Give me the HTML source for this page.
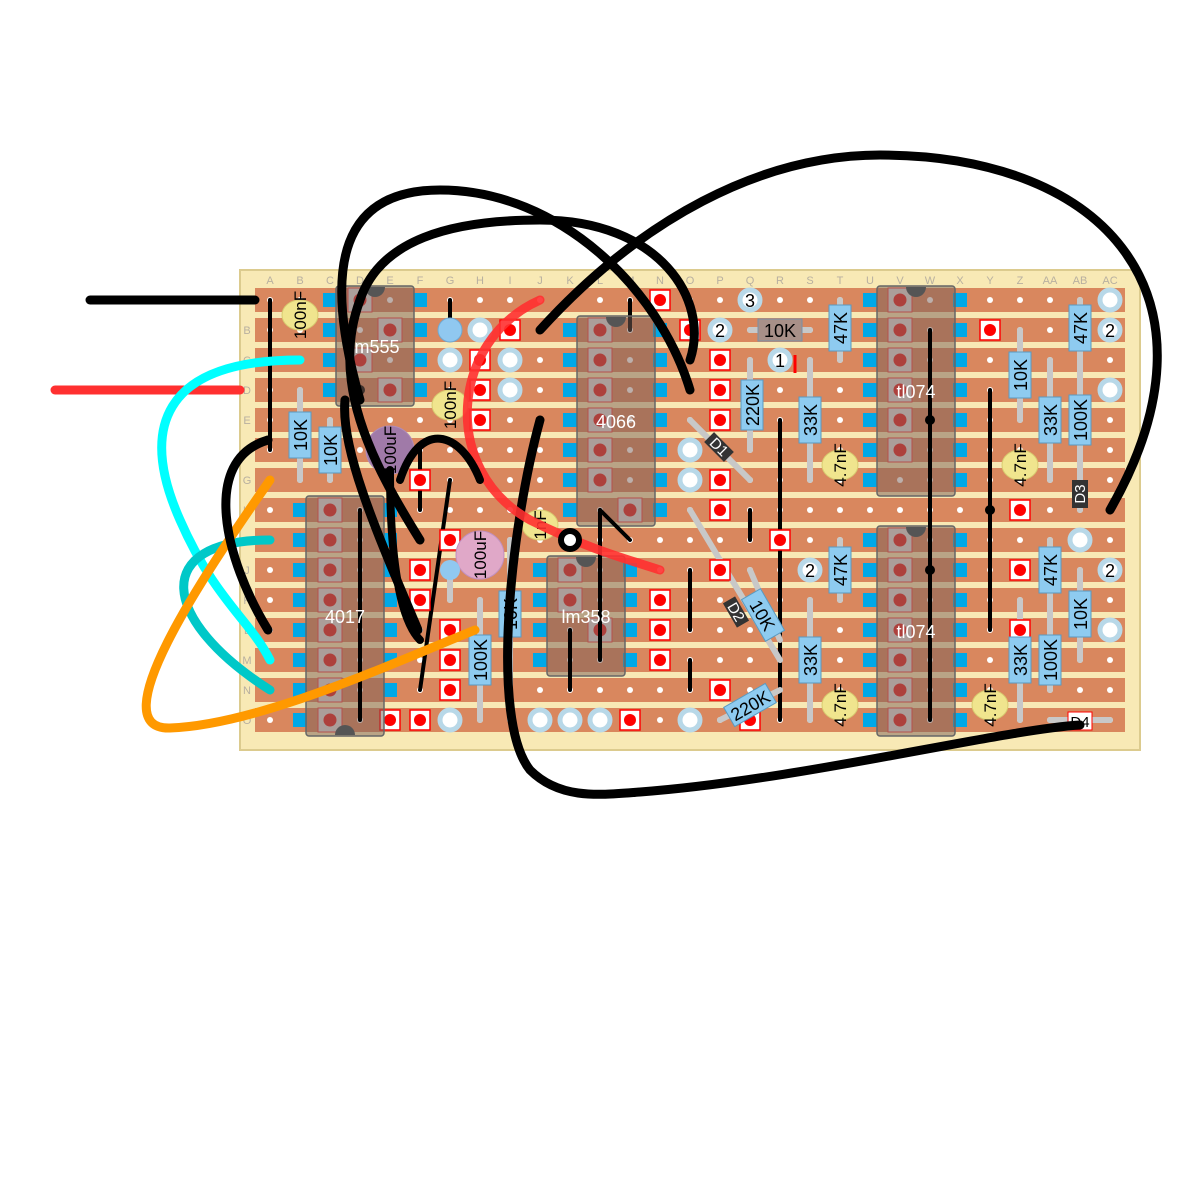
<!DOCTYPE html>
<html><head><meta charset="utf-8"><style>
html,body{margin:0;padding:0;background:#fff;width:1178px;height:1178px;overflow:hidden}
svg{display:block}
text{font-family:"Liberation Sans",sans-serif}
</style></head><body>
<svg id="s" width="1178" height="1178" viewBox="0 0 1178 1178" xmlns="http://www.w3.org/2000/svg">
<rect x="240" y="270" width="900" height="480" fill="#f8e9b5" stroke="#dccb8e" stroke-width="2"/>
<g id="strips"></g>
<g id="labels" fill="#b8b0a0" font-size="11" text-anchor="middle"></g>
<g id="holes"></g>
<g stroke="#000" stroke-width="4" stroke-linecap="round" fill="none">
<line x1="270" y1="300" x2="270" y2="450"/>
<line x1="630" y1="300" x2="630" y2="330"/>
<line x1="780" y1="420" x2="780" y2="630"/>
<line x1="750" y1="510" x2="750" y2="540"/>
<line x1="990" y1="390" x2="990" y2="630"/>
<line x1="450" y1="300" x2="450" y2="330"/>
<line x1="420" y1="450" x2="420" y2="510"/>
<line x1="450" y1="480" x2="420" y2="690"/>
<line x1="690" y1="570" x2="690" y2="630"/>
<line x1="690" y1="660" x2="690" y2="690"/>
<line x1="780" y1="570" x2="780" y2="720"/>
</g>
<g fill="#000"><circle cx="990" cy="510" r="5"/><circle cx="360" cy="390" r="5"/></g>
<g stroke="#c8c8c8" stroke-width="6" stroke-linecap="round">
<line x1="300" y1="390" x2="300" y2="480"/><line x1="330" y1="420" x2="330" y2="480"/>
<line x1="510" y1="540" x2="510" y2="720"/><line x1="480" y1="600" x2="480" y2="720"/>
<line x1="450" y1="570" x2="450" y2="600"/>
<line x1="750" y1="360" x2="750" y2="450"/><line x1="810" y1="360" x2="810" y2="480"/>
<line x1="840" y1="300" x2="840" y2="360"/><line x1="840" y1="540" x2="840" y2="600"/>
<line x1="810" y1="600" x2="810" y2="720"/>
<line x1="1020" y1="330" x2="1020" y2="420"/><line x1="1050" y1="360" x2="1050" y2="480"/>
<line x1="1080" y1="360" x2="1080" y2="480"/><line x1="1050" y1="540" x2="1050" y2="600"/>
<line x1="1080" y1="300" x2="1080" y2="360"/><line x1="1080" y1="570" x2="1080" y2="660"/>
<line x1="1020" y1="600" x2="1020" y2="720"/><line x1="1050" y1="600" x2="1050" y2="690"/>
<line x1="690" y1="420" x2="750" y2="480"/><line x1="690" y1="510" x2="780" y2="660"/>
<line x1="720" y1="720" x2="780" y2="690"/><line x1="750" y1="570" x2="780" y2="640"/>
<line x1="750" y1="330" x2="810" y2="330"/><line x1="1050" y1="720" x2="1110" y2="720"/>
<line x1="1080" y1="480" x2="1080" y2="510"/>
</g>
<g id="pads"></g>
<g id="pins"></g>
<g fill="#7a6058" fill-opacity="0.5" stroke="#666" stroke-width="1.5">
<rect x="336" y="286" width="78" height="120" rx="3"/>
<rect x="577" y="316" width="78" height="210" rx="3"/>
<rect x="306" y="496" width="78" height="240" rx="3"/>
<rect x="547" y="556" width="78" height="120" rx="3"/>
<rect x="877" y="286" width="78" height="210" rx="3"/>
<rect x="877" y="526" width="78" height="210" rx="3"/>
</g>
<g fill="#555">
<path d="M365,287 A10,10 0 0 0 385,287 Z"/><path d="M606,317 A10,10 0 0 0 626,317 Z"/><path d="M335,735 A10,10 0 0 1 355,735 Z"/><path d="M576,557 A10,10 0 0 0 596,557 Z"/><path d="M906,287 A10,10 0 0 0 926,287 Z"/><path d="M906,527 A10,10 0 0 0 926,527 Z"/>
</g>
<g stroke="#000" stroke-width="4" stroke-linecap="round" fill="none">
<line x1="360" y1="510" x2="360" y2="720"/><line x1="930" y1="330" x2="930" y2="720"/>
<line x1="600" y1="510" x2="600" y2="660"/><line x1="570" y1="630" x2="570" y2="690"/>
<line x1="630" y1="540" x2="600" y2="510"/>
</g>
<g fill="#000"><circle cx="930" cy="420" r="5"/><circle cx="930" cy="570" r="5"/></g>
<g id="res" fill="#8ecbf0" stroke="#5a9ac0" stroke-width="1"></g>
<g stroke="#d8cc70" fill="#f0e58e" stroke-width="1">
<ellipse cx="300" cy="315" rx="18" ry="15"/><ellipse cx="450" cy="405" rx="18" ry="15"/><ellipse cx="540" cy="525" rx="18" ry="15"/>
<ellipse cx="840" cy="465" rx="18" ry="15"/><ellipse cx="1020" cy="465" rx="18" ry="15"/><ellipse cx="840" cy="705" rx="18" ry="15"/><ellipse cx="990" cy="705" rx="18" ry="15"/>
</g>
<circle cx="390" cy="450" r="24" fill="#a07aa8" stroke="#b08cb8"/>
<circle cx="480" cy="555" r="24" fill="#e0a8c8" stroke="#c090c0"/>
<circle cx="450" cy="570" r="10" fill="#90c8f0"/>
<circle cx="450" cy="330" r="12" fill="#90c8f0" stroke="#70a8d0"/>
<g font-size="17" fill="#000" text-anchor="middle">
<text transform="translate(306,315) rotate(-90)">100nF</text>
<text transform="translate(456,405) rotate(-90)">100nF</text>
<text transform="translate(546,525) rotate(-90)">1nF</text>
<text transform="translate(846,465) rotate(-90)">4.7nF</text>
<text transform="translate(1026,465) rotate(-90)">4.7nF</text>
<text transform="translate(846,705) rotate(-90)">4.7nF</text>
<text transform="translate(996,705) rotate(-90)">4.7nF</text>
<text transform="translate(396,450) rotate(-90)">100uF</text>
<text transform="translate(486,555) rotate(-90)">100uF</text>
</g>
<g><rect x="705" y="440" width="28" height="14" fill="#333" transform="rotate(45 719 447)"/><rect x="722" y="605" width="28" height="14" fill="#333" transform="rotate(60 736 612)"/>
<rect x="1072" y="480" width="16" height="28" fill="#333"/><rect x="1068" y="712" width="24" height="18" fill="#fff" stroke="#f00"/></g>
<g font-size="15" fill="#fff" text-anchor="middle"><text x="719" y="452" transform="rotate(45 719 447)">D1</text><text x="736" y="617" transform="rotate(60 736 612)">D2</text><text transform="translate(1085,494) rotate(-90)">D3</text></g>
<text x="1080" y="727" font-size="15" text-anchor="middle" fill="#000">D4</text>
<g fill="#fff" font-size="18" text-anchor="middle">
<text x="375" y="353">lm555</text><text x="616" y="428">4066</text><text x="345" y="623">4017</text><text x="586" y="623">lm358</text><text x="916" y="398">tl074</text><text x="916" y="638">tl074</text>
</g>
<g fill="none" stroke-linecap="round">
<line x1="90" y1="300" x2="255" y2="300" stroke="#000" stroke-width="9"/>
<line x1="55" y1="390" x2="240" y2="390" stroke="#ff3030" stroke-width="9"/>
<path d="M300,360 C160,360 140,430 180,520 C215,600 250,620 270,660" stroke="#00ffff" stroke-width="9"/>
<path d="M270,540 C150,540 160,620 270,690" stroke="#00c8c8" stroke-width="9"/>
<path d="M270,480 C200,580 100,730 170,728 C260,725 400,660 475,630" stroke="#ff9900" stroke-width="9"/>
<path d="M540,330 C640,220 760,155 880,155 C1110,155 1230,300 1110,510" stroke="#000" stroke-width="9"/>
<path d="M360,400 C320,260 345,190 440,190 C560,190 660,290 690,390" stroke="#000" stroke-width="9"/>
<path d="M268,630 C225,560 200,460 268,440" stroke="#000" stroke-width="9"/>
<path d="M420,540 C370,460 330,380 360,300 C380,240 450,220 540,220 C660,220 710,300 690,360" stroke="#000" stroke-width="9"/>
<path d="M418,630 C380,540 340,450 345,400" stroke="#000" stroke-width="9"/>
<path d="M540,420 C510,530 490,720 530,770 C560,800 600,795 640,792 C800,780 1000,730 1080,725" stroke="#000" stroke-width="9"/>
<path d="M540,300 C450,340 440,470 530,520 C590,550 630,560 660,570" stroke="#ff3030" stroke-width="9" stroke-opacity="0.9"/>
<path d="M400,480 C420,420 460,430 480,480" stroke="#000" stroke-width="8"/>
<path d="M390,470 C390,560 400,620 420,640" stroke="#000" stroke-width="8"/>
</g>
<circle cx="570" cy="540" r="9" fill="#fff" stroke="#000" stroke-width="6"/>
<line x1="795" y1="355" x2="795" y2="373" stroke="#f00" stroke-width="3"/>
</svg>
<script>
var NS="http://www.w3.org/2000/svg";
function el(p,t,a,txt){var e=document.createElementNS(NS,t);for(var k in a)e.setAttribute(k,a[k]);if(txt!=null)e.textContent=txt;document.getElementById(p).appendChild(e);return e;}
var cols="A B C D E F G H I J K L M N O P Q R S T U V W X Y Z AA AB AC".split(" ");
var rows="ABCDEFGHIJKLMNO";
for(var r=0;r<15;r++){el("strips","rect",{x:255,y:288+30*r,width:870,height:24,fill:"#d9875e"});el("labels","text",{x:247,y:304+30*r},rows[r]);}
for(var c=0;c<29;c++){el("labels","text",{x:270+30*c,y:284},cols[c]);for(var r=0;r<15;r++)el("holes","circle",{cx:270+30*c,cy:300+30*r,r:3,fill:"#fff"});}
var cuts=[[660,300],[690,330],[510,330],[480,360],[480,390],[480,420],[720,360],[720,390],[720,420],[720,480],[720,510],[720,570],[720,690],[750,720],[780,540],[990,330],[1020,510],[1020,570],[1020,630],[420,480],[450,540],[420,570],[420,600],[450,630],[450,660],[450,690],[420,720],[390,720],[630,720],[660,600],[660,630],[660,660]];
cuts.forEach(function(p){el("pins","rect",{x:p[0]-10,y:p[1]-10,width:20,height:20,fill:"#fff",stroke:"#f00","stroke-width":1.5});el("pins","circle",{cx:p[0],cy:p[1],r:6,fill:"#f00"});});
function pin(x,y){el("pins","rect",{x:x-12,y:y-12,width:24,height:24,fill:"#ddd",stroke:"#f04040","stroke-width":1});el("pins","circle",{cx:x,cy:y,r:6.5,fill:"#e02020"});}
[[360,300],[390,330],[360,360],[390,390],[630,510],[570,570],[570,600],[600,630]].forEach(function(p){pin(p[0],p[1]);});
for(var i=0;i<6;i++){pin(600,330+30*i);pin(900,300+30*i);pin(900,540+30*i);}
pin(900,720);
for(var i=0;i<8;i++)pin(330,510+30*i);
function bl(x,y0,n){for(var i=0;i<n;i++)el("pads","rect",{x:x-7,y:y0+30*i-7,width:14,height:14,fill:"#00a8e8"});}
bl(330,300,4);bl(420,300,4);bl(570,330,7);bl(660,330,7);bl(300,510,8);bl(390,510,8);bl(540,570,4);bl(630,570,4);bl(870,300,7);bl(960,300,7);bl(870,540,7);bl(960,540,7);
var rings=[[450,360],[480,330],[510,360],[510,390],[750,300,"3"],[720,330,"2"],[780,360,"1"],[690,450],[690,480],[1110,300],[1110,390],[1080,540],[1110,570,"2"],[1110,630],[1110,330,"2"],[810,570,"2"],[450,720],[540,720],[570,720],[600,720],[690,720]];
rings.forEach(function(p){el("pins","circle",{cx:p[0],cy:p[1],r:10,fill:"#fff",stroke:"#b8d8e8","stroke-width":5});if(p[2])el("pins","text",{x:p[0],y:p[1]+7,"font-size":18,"text-anchor":"middle",fill:"#000"},p[2]);});
var R=[[300,435,"10K"],[330,450,"10K"],[510,614,"10K"],[480,660,"100K"],[752,405,"220K"],[810,420,"33K"],[840,328,"47K"],[840,570,"47K"],[810,660,"33K"],[1020,375,"10K"],[1050,420,"33K"],[1080,420,"100K"],[1050,570,"47K"],[1080,328,"47K"],[1080,614,"10K"],[1020,660,"33K"],[1050,660,"100K"]];
R.forEach(function(p){var h=p[2].length>3?50:46;el("res","rect",{x:p[0]-11,y:p[1]-h/2,width:22,height:h});el("res","text",{transform:"translate("+(p[0]+7)+","+p[1]+") rotate(-90)","font-size":18,"text-anchor":"middle",fill:"#000",stroke:"none"},p[2]);});
el("res","rect",{x:758,y:319,width:44,height:22,fill:"#a89088",stroke:"#7790a8"});el("res","text",{x:780,y:337,"font-size":18,"text-anchor":"middle",fill:"#000",stroke:"none"},"10K");
[[763,615,"10K",60],[750,705,"220K",-30]].forEach(function(p){el("res","rect",{x:p[0]-24,y:p[1]-11,width:48,height:22,transform:"rotate("+p[3]+" "+p[0]+" "+p[1]+")"});el("res","text",{x:p[0],y:p[1]+7,"font-size":18,"text-anchor":"middle",fill:"#000",stroke:"none",transform:"rotate("+p[3]+" "+p[0]+" "+p[1]+")"},p[2]);});
</script>
</body></html>
